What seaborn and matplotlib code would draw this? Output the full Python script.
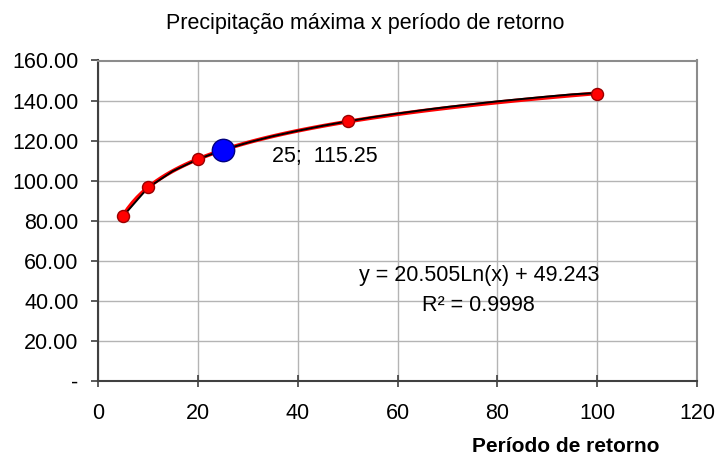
import matplotlib
matplotlib.use("Agg")
import matplotlib.pyplot as plt
import matplotlib.ticker as mticker
import seaborn as sns
import numpy as np
import pandas as pd

# data
periodo = [5, 10, 20, 50, 100]
precip = [82.3, 96.6, 110.8, 129.6, 143.5]
curva_x = [5, 10, 15, 20, 25, 30, 35, 40, 45, 50, 55, 60, 65, 70, 75, 80, 85, 90, 95, 100]
curva_y = [82.2, 96.5, 104.8, 110.7, 115.3, 119.0, 122.2, 124.9, 127.4, 129.6,
           131.7, 133.5, 135.2, 136.8, 138.2, 139.6, 140.8, 142.0, 143.1, 143.8]
ponto_x = [25]
ponto_y = [115.25]
title = "Precipitação máxima x período de retorno"
xlabel = "Período de retorno"
eq_text = "y = 20.505Ln(x) + 49.243"
r2_text = "R² = 0.9998"

sns.set_theme(style="white")
plt.rcParams['font.family'] = ['Liberation Sans', 'DejaVu Sans']
plt.rcParams['text.color'] = 'black'
plt.rcParams['xtick.color'] = 'black'
plt.rcParams['ytick.color'] = 'black'

fig = plt.figure(figsize=(7.15, 4.55), dpi=100)
ax = fig.add_axes([98/715, 1-381/455, (697-98)/715, (381-60.5)/455])

df = pd.DataFrame({"x": periodo, "y": precip})
dfc = pd.DataFrame({"x": curva_x, "y": curva_y})
dfp = pd.DataFrame({"x": ponto_x, "y": ponto_y})

sns.regplot(data=df, x="x", y="y", logx=True, ci=None, scatter=False, ax=ax,
            line_kws=dict(color="#ff0000", lw=2.8, zorder=3))
sns.lineplot(data=dfc, x="x", y="y", ax=ax, color="black", lw=1.4, zorder=4)
sns.scatterplot(data=df, x="x", y="y", ax=ax, s=75, color="#ff0000",
                edgecolor="#990000", linewidth=1.0, zorder=5)
sns.scatterplot(data=dfp, x="x", y="y", ax=ax, s=260, color="#0000ff",
                edgecolor="#000080", linewidth=1.0, zorder=6)

ax.set_xlim(0, 120)
ax.set_ylim(0, 160)
ax.set_xticks(np.arange(0, 121, 20))
ax.set_yticks(np.arange(0, 161, 20))
ax.yaxis.set_major_formatter(mticker.FuncFormatter(lambda v, p: "-" if v == 0 else f"{v:.2f}"))
ax.grid(True, color="#b4b4b4", lw=1.0)
ax.set_axisbelow(True)
for s in ["top", "right"]:
    ax.spines[s].set_visible(True)
    ax.spines[s].set_color("#8c8c8c")
    ax.spines[s].set_linewidth(1.5)
for s in ["left", "bottom"]:
    ax.spines[s].set_color("#404040")
    ax.spines[s].set_linewidth(1.5)
ax.tick_params(axis="y", direction="out", length=5, width=1.2, color="#404040",
               labelsize=15.5, pad=9, left=True, labelcolor="black")
ax.tick_params(axis="x", direction="inout", length=8, width=1.2, color="#404040",
               labelsize=15.5, pad=12, bottom=True, labelcolor="black")
ax.set_xlabel("")
ax.set_ylabel("")

fig.text(365/715, 1-23/455, title, ha="center", va="center", fontsize=15.5)
fig.text(566/715, 1-447/455, xlabel, ha="center", va="center", fontsize=15,
         fontweight="bold")
ax.text(34.9, 112.3, "25;  115.25", ha="left", va="center", fontsize=15.5)
ax.text(76.3, 52.5, eq_text, ha="center", va="center", fontsize=15.5)
ax.text(76.3, 37.8, r2_text, ha="center", va="center", fontsize=15.5)

fig.savefig("out.png", dpi=100)
